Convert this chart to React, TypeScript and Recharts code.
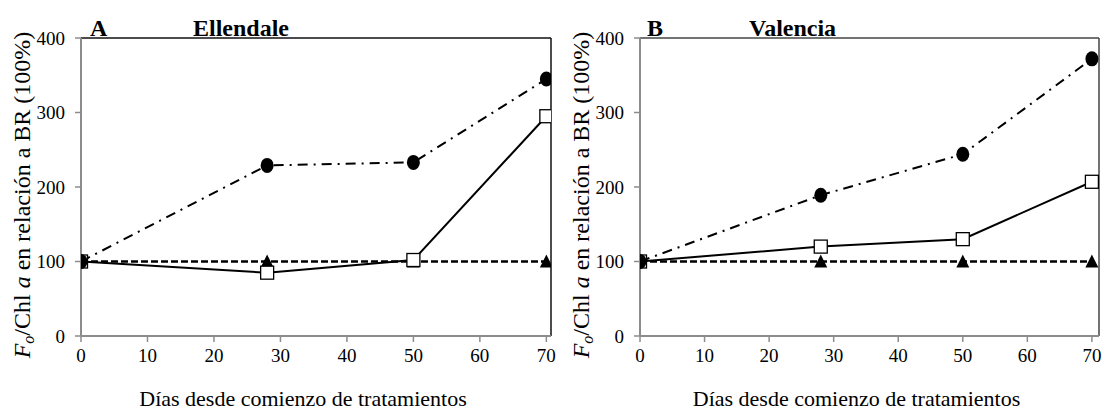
import React from 'react';
import { LineChart, Line, XAxis, YAxis, ReferenceLine } from 'recharts';

const days = [0, 28, 50, 70];
const xTicks = [0, 10, 20, 30, 40, 50, 60, 70];
const yTicks = [0, 100, 200, 300, 400];

const ellendaleCircle = [100, 229, 233, 345];
const ellendaleSquare = [100, 85, 102, 295];
const ellendaleTriangle = [100, 100, 100, 100];

const valenciaCircle = [100, 189, 244, 372];
const valenciaSquare = [100, 120, 130, 207];
const valenciaTriangle = [100, 100, 100, 100];

const FONT = '"Liberation Serif", "Times New Roman", serif';

const build = (tri: number[], sq: number[], ci: number[]) =>
  days.map((d, i) => ({ day: d, tri: tri[i], sq: sq[i], ci: ci[i] }));

const ellendaleData = build(ellendaleTriangle, ellendaleSquare, ellendaleCircle);
const valenciaData = build(valenciaTriangle, valenciaSquare, valenciaCircle);

const CircleDot = (p: any) => {
  const { cx, cy } = p;
  if (cx == null || cy == null) return null;
  return <ellipse key={`c${cx}`} cx={cx} cy={cy} rx={6.5} ry={7.5} fill="#000" />;
};
const SquareDot = (p: any) => {
  const { cx, cy } = p;
  if (cx == null || cy == null) return null;
  return <rect key={`s${cx}`} x={cx - 6.5} y={cy - 6.5} width={13} height={13} fill="#fff" stroke="#000" strokeWidth={1.3} />;
};
const TriDot = (p: any) => {
  const { cx, cy } = p;
  if (cx == null || cy == null) return null;
  return <polygon key={`t${cx}`} points={`${cx},${cy - 7} ${cx + 6.5},${cy + 6} ${cx - 6.5},${cy + 6}`} fill="#000" />;
};

const serif = { fontFamily: FONT };

const XTick = (p: any) => {
  const { x, y, payload } = p;
  return (
    <text x={x} y={y + 20} textAnchor="middle" style={{ ...serif, fontSize: 19 }} fill="#000">
      {payload.value}
    </text>
  );
};
const YTick = (p: any) => {
  const { x, y, payload } = p;
  return (
    <text x={x} y={y + 6.5} textAnchor="end" style={{ ...serif, fontSize: 19 }} fill="#000">
      {payload.value}
    </text>
  );
};

const YLabel = (props: any) => {
  const vb = props.viewBox || { x: 0, y: 0, width: 0, height: 0 };
  const cx = vb.x + 1;
  const cy = vb.y + vb.height / 2 + 8;
  return (
    <text x={cx} y={cy} transform={`rotate(-90 ${cx} ${cy})`} textAnchor="middle" dominantBaseline="central"
      style={{ ...serif, fontSize: 24 }} fill="#000">
      <tspan style={{ fontStyle: 'italic' }}>F</tspan>
      <tspan style={{ fontStyle: 'italic', fontSize: 16 }} dy={6}>o</tspan>
      <tspan dy={-6}>/Chl </tspan>
      <tspan style={{ fontStyle: 'italic' }}>a</tspan>
      <tspan> en relación a BR (100%)</tspan>
    </text>
  );
};

const XLabel = (props: any) => {
  const vb = props.viewBox || { x: 0, y: 0, width: 0, height: 0 };
  const cx = vb.x + vb.width / 2 - 13;
  const cy = vb.y + 70;
  return (
    <text x={cx} y={cy} textAnchor="middle" style={{ ...serif, fontSize: 22 }} fill="#000">
      Días desde comienzo de tratamientos
    </text>
  );
};

type PanelProps = {
  data: any[];
  width: number;
  left: number;
  right: number;
  xMax: number;
  frame: string;
};

const Panel = ({ data, width, left, right, xMax, frame }: PanelProps) => (
  <LineChart width={width} height={410} data={data} margin={{ top: 38, right, bottom: 34, left }}>
    <XAxis
      type="number"
      dataKey="day"
      domain={[0, xMax]}
      ticks={xTicks}
      allowDataOverflow
      height={40}
      axisLine={{ stroke: '#8c8c8c', strokeWidth: 2 }}
      tickLine={{ stroke: '#8c8c8c', strokeWidth: 1.5 }}
      tickSize={6}
      tickMargin={0}
      tick={<XTick />}
      interval={0}
      label={<XLabel />}
    />
    <YAxis
      type="number"
      domain={[0, 400]}
      ticks={yTicks}
      width={60}
      axisLine={{ stroke: '#8c8c8c', strokeWidth: 2 }}
      tickLine={{ stroke: '#8c8c8c', strokeWidth: 1.5 }}
      tickSize={6}
      tickMargin={10}
      tick={<YTick />}
      interval={0}
      label={<YLabel />}
    />
    <ReferenceLine y={400} stroke={frame} strokeWidth={1.5} />
    <ReferenceLine x={xMax} stroke={frame} strokeWidth={1.5} />
    <Line dataKey="tri" stroke="#000" strokeWidth={2.5} strokeDasharray="7 3" dot={<TriDot />} isAnimationActive={false} />
    <Line dataKey="sq" stroke="#000" strokeWidth={2} dot={<SquareDot />} isAnimationActive={false} />
    <Line dataKey="ci" stroke="#000" strokeWidth={2} strokeDasharray="10 6 2 6" dot={<CircleDot />} isAnimationActive={false} />
  </LineChart>
);

export default function App() {
  return (
    <div style={{ position: 'absolute', left: 0, top: 0, width: 1103, height: 410, background: '#fff' }}>
      <div style={{ position: 'absolute', left: 0, top: 0 }}>
        <Panel data={ellendaleData} width={560} left={21} right={9} xMax={70.7} frame="#111" />
      </div>
      <div style={{ position: 'absolute', left: 560, top: 0 }}>
        <Panel data={valenciaData} width={543} left={20} right={4} xMax={71.1} frame="#444" />
      </div>
      <svg width={1103} height={410} style={{ position: 'absolute', left: 0, top: 0, pointerEvents: 'none' }}>
        <g style={{ fontFamily: FONT, fontWeight: 'bold', fontSize: 24 }} fill="#000">
          <text x={90} y={36}>A</text>
          <text x={193} y={36}>Ellendale</text>
          <text x={647} y={36}>B</text>
          <text x={749} y={36}>Valencia</text>
        </g>
      </svg>
    </div>
  );
}
